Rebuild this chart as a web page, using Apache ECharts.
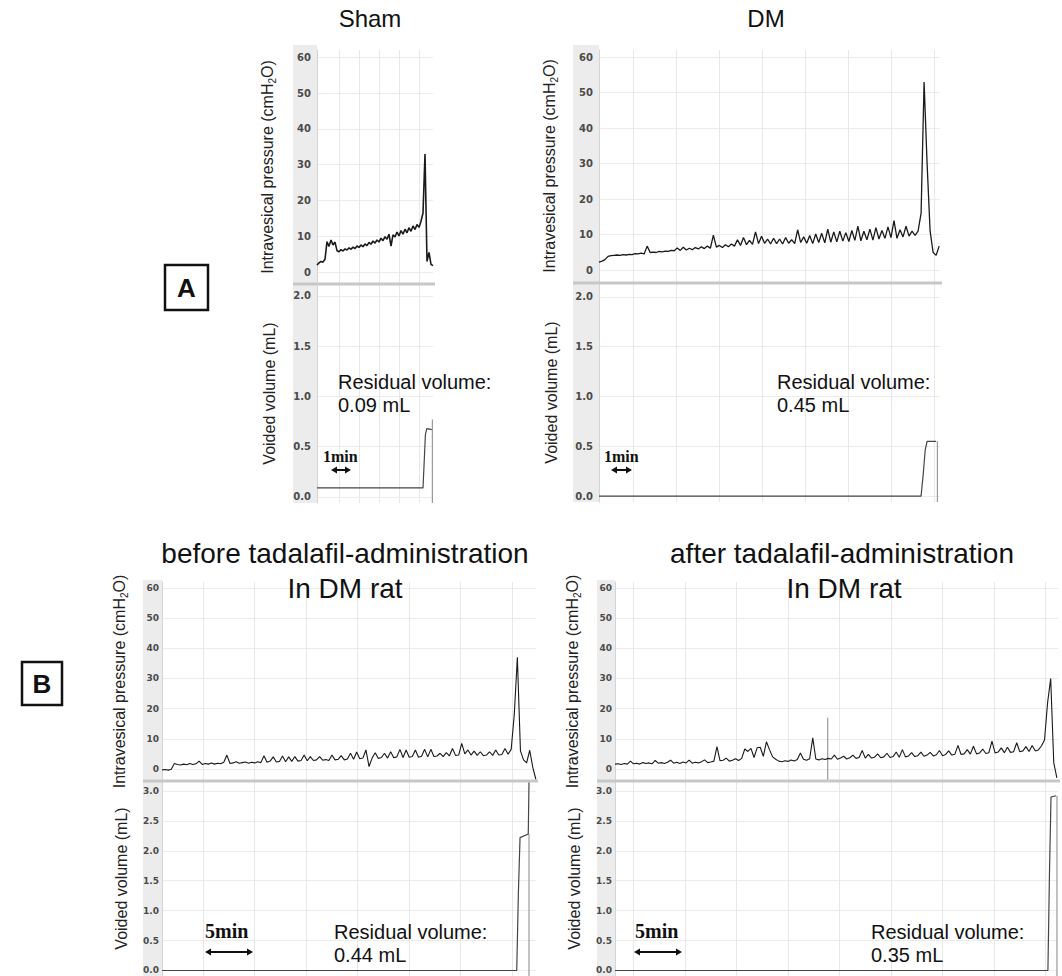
<!DOCTYPE html>
<html>
<head>
<meta charset="utf-8">
<script src="https://cdn.jsdelivr.net/npm/echarts@6/dist/echarts.min.js"></script>
<style>
  html, body { margin: 0; background: #fff; }
  #chart { width: 1062px; height: 976px; }
</style>
</head>
<body>
<div id="chart"></div>
<script>
// Ticks
const pressureTicks = [0, 10, 20, 30, 40, 50, 60];
const volumeTicksA = [0, 0.5, 1.0, 1.5, 2.0];
const volumeTicksB = [0, 0.5, 1.0, 1.5, 2.0, 2.5, 3.0];

// Vertical grid lines (minutes)
const shamGridLines = [1.1, 2.1, 3.1, 4.1, 5.1];
const dmGridLines = [1.6, 3.6, 5.6, 7.6, 9.6, 11.6, 13.6, 15.6];
const beforeGridLines = [4, 9, 14, 19, 24, 29, 34];
const afterGridLines = [1.8, 6.8, 11.8, 16.8, 21.8, 26.8, 31.8, 36.8, 41.8];

// Sham: intravesical pressure (cmH2O), one sample every 0.1 min
const shamStep = 0.1;
const shamPressure = [
  2.0, 2.6, 3.0, 2.8, 3.6, 8.5, 7.2, 9.0, 7.6, 8.4,
  6.0, 5.7, 6.3, 5.9, 6.5, 6.2, 6.8, 6.4, 7.0, 6.6,
  7.3, 6.9, 7.6, 7.1, 7.9, 7.4, 8.3, 7.8, 8.7, 8.1,
  9.0, 8.4, 9.5, 8.8, 9.9, 9.2, 10.6, 7.3, 10.4, 9.8,
  11.2, 10.1, 11.6, 10.6, 12.0, 11.0, 12.4, 11.4, 12.9, 11.9,
  13.3, 12.5, 14.2, 16.5, 33.0, 3.0, 5.5, 2.2, 1.8
];
// Sham: voided volume (mL)
const shamVolumeTime = [0, 5.30, 5.36, 5.42, 5.49, 5.74];
const shamVolumeValues = [0.09, 0.09, 0.35, 0.62, 0.68, 0.67];
const shamCursor = [[5.77, 0.77], [5.77, -0.06]];

// DM: pressure, one sample every 0.14 min
const dmStep = 0.14;
const dmPressure = [
  2.3, 2.6, 3.0, 3.9, 4.1, 4.2, 4.3, 4.2, 4.4, 4.3,
  4.5, 4.4, 4.7, 4.6, 4.8, 4.6, 6.8, 5.0, 5.1, 5.0,
  5.3, 5.2, 5.4, 5.3, 5.6, 5.5, 6.3, 5.6, 6.5, 5.7,
  6.2, 5.8, 6.4, 6.0, 6.6, 6.1, 6.8, 6.2, 9.9, 6.5,
  7.0, 6.4, 7.2, 6.6, 7.4, 6.8, 8.6, 7.0, 9.2, 7.2,
  8.4, 7.3, 10.8, 7.5, 9.6, 7.6, 8.8, 7.4, 9.0, 7.5,
  8.8, 7.4, 9.2, 7.6, 8.6, 7.5, 11.4, 7.8, 9.4, 7.6,
  9.8, 7.5, 10.2, 7.8, 10.4, 7.7, 11.6, 7.9, 10.8, 8.0,
  11.0, 8.2, 10.6, 8.1, 11.2, 8.4, 12.4, 8.3, 11.0, 8.6,
  11.6, 8.5, 12.0, 8.8, 11.2, 9.0, 12.2, 9.2, 14.0, 9.0,
  11.4, 9.4, 12.4, 9.6, 11.0, 9.8, 11.0, 16.0, 53.0, 30.0,
  11.0, 5.0, 4.2, 6.8
];
const dmVolumeTime = [0, 14.98, 15.08, 15.17, 15.26, 15.68];
const dmVolumeValues = [0, 0, 0.22, 0.46, 0.55, 0.55];
const dmCursor = [[15.74, 0.55], [15.74, -0.06]];

// Before tadalafil: pressure, one sample every 0.3 min
const beforeStep = 0.3;
const beforePressure = [
  -0.3, -0.2, -0.4, -0.1, 1.8, 1.5, 1.3, 1.6, 1.4, 1.8,
  1.5, 1.7, 2.6, 1.5, 1.8, 1.6, 2.0, 1.6, 1.9, 1.7,
  2.2, 4.6, 1.8, 2.0, 2.4, 1.9, 2.1, 2.3, 1.9, 2.2,
  2.0, 2.4, 2.1, 4.4, 2.2, 2.6, 4.0, 2.3, 2.5, 4.3,
  2.4, 4.0, 2.5, 4.1, 2.6, 2.8, 4.6, 2.7, 4.1, 2.8,
  3.0, 4.1, 2.9, 3.1, 2.8, 4.6, 3.0, 3.2, 4.4, 3.0,
  3.3, 5.2, 3.2, 5.6, 3.4, 3.6, 6.3, 0.8, 3.6, 5.4,
  3.5, 3.8, 5.2, 3.6, 5.7, 3.7, 4.0, 6.5, 3.8, 6.3,
  3.9, 4.1, 6.3, 3.9, 4.2, 6.5, 4.0, 6.5, 4.1, 4.3,
  5.2, 4.1, 5.4, 4.3, 6.8, 4.5, 4.6, 8.5, 5.0, 6.3,
  4.6, 5.9, 4.5, 5.7, 4.4, 4.6, 5.7, 4.5, 6.3, 4.6,
  4.8, 6.8, 4.9, 6.5, 18.0, 37.0, 6.0, 3.0, 2.0, 6.2,
  0.5, -3.5
];
const beforeVolumeTime = [0, 34.44, 34.60, 34.76, 35.56, 35.63];
const beforeVolumeValues = [0, 0, 1.3, 2.22, 2.28, 3.15];
const beforeCursor = [[35.63, 2.28], [35.63, -0.09]];

// After tadalafil: pressure, one sample every 0.3 min
const afterStep = 0.3;
const afterPressure = [
  1.6, 1.7, 1.5, 1.8, 1.6, 2.6, 1.7, 1.9, 1.6, 2.1,
  1.8, 2.0, 1.7, 2.8, 1.9, 2.1, 1.8, 2.2, 2.9, 1.9,
  2.2, 1.8, 2.3, 2.0, 2.9, 1.9, 2.2, 2.0, 2.4, 3.0,
  2.1, 2.3, 2.6, 7.4, 2.7, 2.9, 3.6, 2.6, 2.9, 3.4,
  2.8, 3.5, 6.6, 5.8, 6.8, 3.8, 7.0, 7.2, 4.2, 9.0,
  6.4, 4.0, 3.2, 2.6, 2.4, 2.7, 2.5, 3.0, 2.6, 3.1,
  5.3, 3.2, 2.9, 3.4, 10.3, 3.3, 3.0, 3.4, 3.1, 3.5,
  3.3, 4.6, 3.2, 3.6, 4.2, 3.3, 3.7, 4.6, 3.5, 3.8,
  6.1, 3.6, 4.8, 3.6, 3.9, 5.0, 3.7, 4.0, 5.2, 3.8,
  4.1, 5.6, 3.9, 6.4, 4.0, 4.3, 5.4, 4.1, 4.4, 5.6,
  4.2, 4.6, 5.5, 4.3, 4.7, 6.1, 4.4, 4.8, 6.0, 4.6,
  4.9, 7.8, 4.8, 5.0, 6.4, 4.9, 7.5, 5.0, 5.3, 6.6,
  5.1, 5.4, 9.2, 5.3, 5.6, 7.0, 5.4, 7.2, 5.5, 5.7,
  8.7, 5.7, 6.0, 7.4, 5.8, 7.8, 6.0, 6.3, 7.6, 9.6,
  22.0, 30.0, 2.0, -3.0
];
const afterPressureCursor = [[20.65, 17.0], [20.65, -4.0]];
const afterVolumeTime = [0, 42.03, 42.18, 42.33, 42.82];
const afterVolumeValues = [0, 0, 1.6, 2.9, 2.92];
const afterCursor = [[42.91, 2.92], [42.91, -0.09]];

function toPairs(values, step) {
  return values.map((v, i) => [+(i * step).toFixed(3), v]);
}
function zip(times, values) {
  return times.map((t, i) => [t, values[i]]);
}

// Panel layout (pixels) - A: Sham, DM; B: before, after
const panels = [
  {
    left: 317, width: 116, pTop: 50, pHeight: 234, vTop: 284, vHeight: 219,
    xMax: 5.8, pMin: -3.3, pMax: 62, vMin: -0.06, vMax: 2.119, vTicks: volumeTicksA,
    gridLines: shamGridLines, pressure: toPairs(shamPressure, shamStep),
    volume: zip(shamVolumeTime, shamVolumeValues), cursors: [null, shamCursor],
    labelSize: 10, labelMargin: 6, nameGap: 40, traceWidth: 1.6
  },
  {
    left: 599, width: 341, pTop: 50, pHeight: 232, vTop: 283, vHeight: 219,
    xMax: 15.86, pMin: -3.3, pMax: 62, vMin: -0.06, vMax: 2.14, vTicks: volumeTicksA,
    gridLines: dmGridLines, pressure: toPairs(dmPressure, dmStep),
    volume: zip(dmVolumeTime, dmVolumeValues), cursors: [null, dmCursor],
    labelSize: 10, labelMargin: 6, nameGap: 40, traceWidth: 1.3
  },
  {
    left: 162, width: 374, pTop: 582, pHeight: 199, vTop: 781, vHeight: 195,
    xMax: 36.31, pMin: -4, pMax: 62, vMin: -0.092, vMax: 3.167, vTicks: volumeTicksB,
    gridLines: beforeGridLines, pressure: toPairs(beforePressure, beforeStep),
    volume: zip(beforeVolumeTime, beforeVolumeValues), cursors: [null, beforeCursor],
    labelSize: 9, labelMargin: 3, nameGap: 33, traceWidth: 1.1
  },
  {
    left: 615, width: 443, pTop: 582, pHeight: 199, vTop: 781, vHeight: 195,
    xMax: 43.01, pMin: -4, pMax: 62, vMin: -0.092, vMax: 3.167, vTicks: volumeTicksB,
    gridLines: afterGridLines, pressure: toPairs(afterPressure, afterStep),
    volume: zip(afterVolumeTime, afterVolumeValues), cursors: [afterPressureCursor, afterCursor],
    labelSize: 9, labelMargin: 3, nameGap: 33, traceWidth: 1.1
  }
];

const grids = [], xAxes = [], yAxes = [], series = [];
const labelFont = { fontFamily: 'DejaVu Sans', fontWeight: 'bold', color: '#4a4a4a' };
const nameStyle = {
  fontFamily: 'Liberation Sans', fontSize: 16, color: '#222',
  rich: { sub: { fontFamily: 'Liberation Sans', fontSize: 10, color: '#222', padding: [9, 0, 0, 0] } }
};

panels.forEach((p, k) => {
  const gi = k * 2;
  grids.push({ left: p.left, top: p.pTop, width: p.width, height: p.pHeight });
  grids.push({ left: p.left, top: p.vTop, width: p.width, height: p.vHeight });
  [0, 1].forEach(j => {
    xAxes.push({
      type: 'value', gridIndex: gi + j, min: 0, max: p.xMax,
      axisLabel: { show: false },
      axisTick: { show: false, customValues: p.gridLines },
      axisLine: { show: false },
      splitLine: { show: true, lineStyle: { color: '#e8e8e8', width: 1 } }
    });
  });
  yAxes.push({
    type: 'value', gridIndex: gi, min: p.pMin, max: p.pMax,
    name: 'Intravesical pressure (cmH{sub|2}O)', nameLocation: 'middle', nameGap: p.nameGap,
    nameTextStyle: nameStyle,
    axisLine: { show: true, lineStyle: { color: '#d4d4d4', width: 1 } },
    axisTick: { show: false, customValues: pressureTicks },
    axisLabel: Object.assign({ customValues: pressureTicks, fontSize: p.labelSize, margin: p.labelMargin }, labelFont),
    splitLine: { show: true, lineStyle: { color: '#ececec', width: 1 } }
  });
  yAxes.push({
    type: 'value', gridIndex: gi + 1, min: p.vMin, max: p.vMax,
    name: 'Voided volume (mL)', nameLocation: 'middle', nameGap: p.nameGap,
    nameTextStyle: nameStyle,
    axisLine: { show: true, lineStyle: { color: '#d4d4d4', width: 1 } },
    axisTick: { show: false, customValues: p.vTicks },
    axisLabel: Object.assign({
      customValues: p.vTicks, fontSize: p.labelSize, margin: p.labelMargin,
      formatter: v => v.toFixed(1)
    }, labelFont),
    splitLine: { show: true, lineStyle: { color: '#ececec', width: 1 } }
  });

  series.push({
    type: 'line', xAxisIndex: gi, yAxisIndex: gi, data: p.pressure,
    symbol: 'none', lineStyle: { color: '#1a1a1a', width: p.traceWidth }, z: 3
  });
  series.push({
    type: 'line', xAxisIndex: gi + 1, yAxisIndex: gi + 1, data: p.volume,
    symbol: 'none', lineStyle: { color: '#444', width: 1.2 }, z: 3
  });
  p.cursors.forEach((c, j) => {
    if (!c) return;
    series.push({
      type: 'line', xAxisIndex: gi + j, yAxisIndex: gi + j, data: c,
      symbol: 'none', lineStyle: { color: '#9a9a9a', width: 1.2 }, z: 2
    });
  });
});

// Decorations: gray label bands, separators, titles, boxes, notes, scale arrows
const bands = [
  { x: 293, y: 45, w: 24, h: 458, sepY: 284, right: 435 },
  { x: 573, y: 45, w: 26, h: 457, sepY: 283, right: 942 },
  { x: 143, y: 580, w: 19, h: 396, sepY: 781, right: 538 },
  { x: 597, y: 580, w: 18, h: 396, sepY: 781, right: 1060 }
];
const graphics = [];
bands.forEach(b => {
  graphics.push({ type: 'rect', z: -5, shape: { x: b.x, y: b.y, width: b.w, height: b.h }, style: { fill: '#ececec' } });
  graphics.push({ type: 'rect', z: 5, shape: { x: b.x, y: b.sepY - 1.5, width: b.right - b.x, height: 3 }, style: { fill: '#c8c8c8' } });
});

function text(str, x, y, font, align, vAlign, extra) {
  return Object.assign({
    type: 'text', x: x, y: y, z: 10,
    style: Object.assign({ text: str, font: font, fill: '#111', align: align || 'center', verticalAlign: vAlign || 'middle' }, extra || {})
  });
}
function arrow(x1, x2, y) {
  const h = 6, w = 3.5;
  return [
    { type: 'line', z: 10, shape: { x1: x1 + 3, y1: y, x2: x2 - 3, y2: y }, style: { stroke: '#111', lineWidth: 2 } },
    { type: 'polygon', z: 10, shape: { points: [[x1, y], [x1 + h, y - w], [x1 + h, y + w]] }, style: { fill: '#111' } },
    { type: 'polygon', z: 10, shape: { points: [[x2, y], [x2 - h, y - w], [x2 - h, y + w]] }, style: { fill: '#111' } }
  ];
}

const titleFont = '24px "Liberation Sans", Arial, sans-serif';
const bTitleFont = '28px "Liberation Sans", Arial, sans-serif';
graphics.push(text('Sham', 370, 18, titleFont));
graphics.push(text('DM', 766, 18, titleFont));
graphics.push(text('before tadalafil-administration', 345, 553, bTitleFont));
graphics.push(text('In DM rat', 345, 588, bTitleFont));
graphics.push(text('after tadalafil-administration', 842, 553, bTitleFont));
graphics.push(text('In DM rat', 844, 588, bTitleFont));

graphics.push({ type: 'rect', z: 10, shape: { x: 165, y: 265, width: 43, height: 45 }, style: { fill: 'none', stroke: '#111', lineWidth: 2.5 } });
graphics.push(text('A', 186.5, 288, 'bold 26px "Liberation Sans", Arial, sans-serif'));
graphics.push({ type: 'rect', z: 10, shape: { x: 22, y: 662, width: 40, height: 43 }, style: { fill: 'none', stroke: '#111', lineWidth: 2.5 } });
graphics.push(text('B', 42, 684, 'bold 26px "Liberation Sans", Arial, sans-serif'));

const noteFont = '20px "Liberation Sans", Arial, sans-serif';
graphics.push(text('Residual volume:\n0.09 mL', 338, 370, noteFont, 'left', 'top', { lineHeight: 23 }));
graphics.push(text('Residual volume:\n0.45 mL', 777, 370, noteFont, 'left', 'top', { lineHeight: 23 }));
graphics.push(text('Residual volume:\n0.44 mL', 334, 920, noteFont, 'left', 'top', { lineHeight: 23 }));
graphics.push(text('Residual volume:\n0.35 mL', 871, 920, noteFont, 'left', 'top', { lineHeight: 23 }));

const minFontA = 'bold 16px "Liberation Serif", "DejaVu Serif", serif';
const minFontB = 'bold 20px "Liberation Serif", "DejaVu Serif", serif';
graphics.push(text('1min', 323, 456, minFontA, 'left'));
graphics.push(...arrow(331, 351, 470));
graphics.push(text('1min', 604, 456, minFontA, 'left'));
graphics.push(...arrow(611, 632, 470));
graphics.push(text('5min', 205, 931, minFontB, 'left'));
graphics.push(...arrow(205, 253, 952));
graphics.push(text('5min', 635, 931, minFontB, 'left'));
graphics.push(...arrow(634, 682, 952));

const chart = echarts.init(document.getElementById('chart'), null, { renderer: 'svg' });
chart.setOption({
  animation: false,
  backgroundColor: '#fff',
  grid: grids,
  xAxis: xAxes,
  yAxis: yAxes,
  series: series,
  graphic: { elements: graphics }
});
</script>
</body>
</html>
